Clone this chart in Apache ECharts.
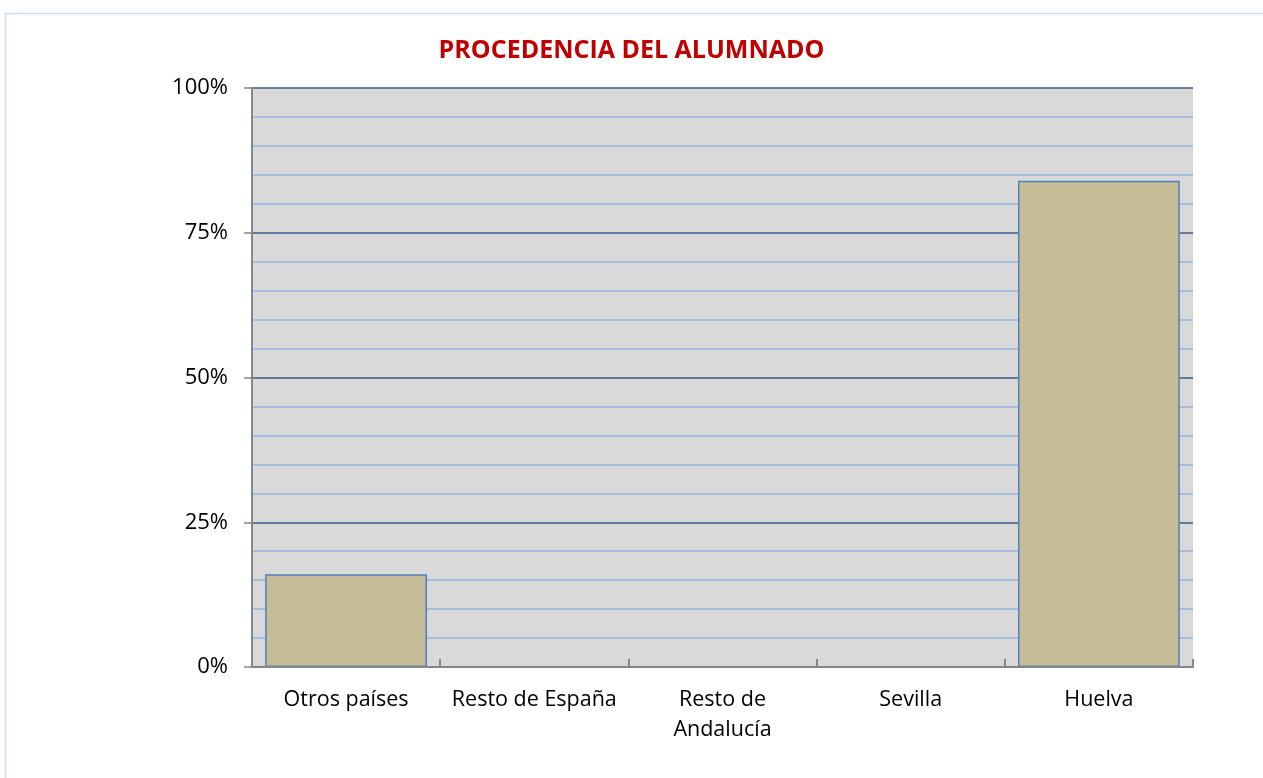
<!DOCTYPE html>
<html><head><meta charset="utf-8">
<script src="https://cdn.jsdelivr.net/npm/echarts@6/dist/echarts.min.js"></script>
<style>html,body{margin:0;padding:0;background:#fff;}#c{width:1263px;height:778px;}</style>
</head><body><div id="c"></div>
<script>
const title = 'PROCEDENCIA DEL ALUMNADO';
const categories = ['Otros países', 'Resto de España', 'Resto de\nAndalucía', 'Sevilla', 'Huelva'];
const values = [16, 0, 0, 0, 84];
const yTicks = [0, 25, 50, 75, 100];

const chart = echarts.init(document.getElementById('c'));
chart.setOption({
  animation: false,
  backgroundColor: '#fff',
  graphic: [{type: 'rect', shape: {x: 5.5, y: 13.5, width: 1300, height: 800}, style: {fill: 'none', stroke: '#c9d9f0', lineWidth: 1.5}, silent: true, z: -10}],
  title: {text: title, left: 'center', top: 33, textStyle: {color: '#c00000', fontSize: 25, fontWeight: 'bold', fontFamily: 'Open Sans'}},
  grid: {left: 252, right: 70, top: 88, bottom: 111, show: true, backgroundColor: '#d9d9d9', borderWidth: 0, z: -1},
  xAxis: {
    type: 'category', data: categories, z: 5,
    axisLine: {lineStyle: {color: '#868686', width: 2}},
    axisTick: {show: true, inside: true, length: 8, lineStyle: {color: '#868686', width: 2}},
    axisLabel: {color: '#000', fontSize: 21.5, fontFamily: 'Open Sans', margin: 18, lineHeight: 30, interval: 0}
  },
  yAxis: {
    type: 'value', min: 0, max: 100, interval: 25,
    axisLine: {show: true, lineStyle: {color: '#868686', width: 2}},
    axisTick: {show: true, length: 8, lineStyle: {color: '#868686', width: 1.5}},
    axisLabel: {color: '#000', fontSize: 22, fontFamily: 'Open Sans', margin: 24, formatter: v => yTicks.includes(v) ? v + '%' : ''},
    splitLine: {lineStyle: {color: '#385d8a', width: 1.5}},
    minorTick: {show: false, splitNumber: 5},
    minorSplitLine: {show: true, lineStyle: {color: '#95b3de', width: 1.5}}
  },
  series: [{
    type: 'bar', barCategoryGap: '14%', z: 3,
    data: values.map(v => ({value: v, itemStyle: {borderWidth: v === 0 ? 0 : 1.5}})),
    itemStyle: {color: '#c4bd97', borderColor: '#4f81bd', borderWidth: 1.5}
  }]
});
</script></body></html>
